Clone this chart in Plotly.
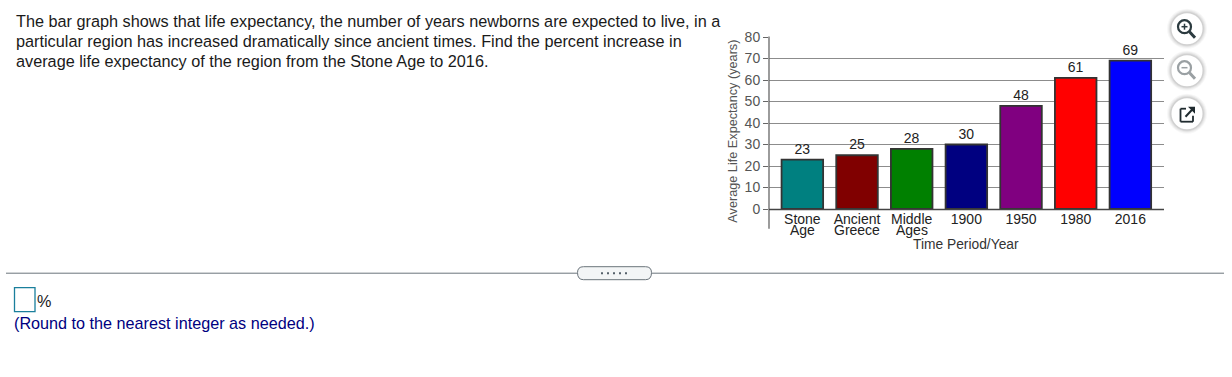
import plotly.graph_objects as go

categories_line1 = ["Stone", "Ancient", "Middle", "1900", "1950", "1980", "2016"]
categories_line2 = ["Age", "Greece", "Ages", "", "", "", ""]
values = [23, 25, 28, 30, 48, 61, 69]
bar_colors = ["#008080", "#800000", "#008000", "#000080", "#800080", "#ff0000", "#0000ff"]
y_ticks = [0, 10, 20, 30, 40, 50, 60, 70, 80]
question_lines = [
    "The bar graph shows that life expectancy, the number of years newborns are expected to live, in a",
    "particular region has increased dramatically since ancient times. Find the percent increase in",
    "average life expectancy of the region from the Stone Age to 2016.",
]

W, H = 1232, 377
L, R, T, B = 769, 1164, 37.3, 209.3
FONT = "Liberation Sans"


def px(x):
    return (x - L) / (R - L)


def py(y):
    return (B - y) / (B - T)


positions = list(range(len(values)))
fig = go.Figure(go.Bar(
    x=positions, y=values, width=0.76,
    marker=dict(color=bar_colors, line=dict(color="#333333", width=1.8)),
    text=[str(v) for v in values], textposition="outside", cliponaxis=False,
    textfont=dict(family=FONT, size=14, color="#222222"), hoverinfo="skip",
))

shapes = []
annotations = []


def text(x, y, s, size=14, color="#222222", anchor="left", angle=0):
    annotations.append(dict(
        xref="paper", yref="paper", x=px(x - (2 if anchor == "left" else 0)), y=py(y), text=s, showarrow=False,
        xanchor=anchor, yanchor="middle", textangle=angle,
        font=dict(family=FONT, size=size, color=color),
    ))


def line(x0, y0, x1, y1, color, width):
    shapes.append(dict(type="line", xref="paper", yref="paper", x0=px(x0), y0=py(y0),
                       x1=px(x1), y1=py(y1), line=dict(color=color, width=width)))


def circle(cx, cy, r, fill="rgba(0,0,0,0)", lc="rgba(0,0,0,0)", lw=0):
    shapes.append(dict(type="circle", xref="paper", yref="paper",
                       x0=px(cx - r), x1=px(cx + r), y0=py(cy + r), y1=py(cy - r),
                       fillcolor=fill, line=dict(color=lc, width=lw)))


for i, s in enumerate(question_lines):
    text(16, 21 + 20 * i, s, size=16.25, color="#1a1a1a")

# second lines of the two-line category labels
for p, s in zip(positions, categories_line2):
    if s:
        annotations.append(dict(xref="x", yref="paper", x=p, y=py(230), text=s, showarrow=False,
                                xanchor="center", yanchor="middle",
                                font=dict(family=FONT, size=14, color="#222222")))
text(966, 244.5, "Time Period/Year", size=13.8, anchor="center", color="#333333")
text(733, 132, "Average Life Expectancy (years)", size=12.7, color="#555555", anchor="center", angle=-90)

# axis stem and baseline
line(L, T - 0.5, L, 229, "#666666", 1.3)
line(L, B + 0.5, R, B + 0.5, "#444444", 1.5)

# divider and handle
line(6, 273.5, 577, 273.5, "#6b747b", 1)
line(652, 273.5, 1224, 273.5, "#6b747b", 1)
x0, x1, y0, y1, rr = 577.5, 651.5, 267, 280, 6
shapes.append(dict(
    type="path", xref="paper", yref="paper",
    path=(f"M {px(x0 + rr)} {py(y0)} L {px(x1 - rr)} {py(y0)} Q {px(x1)} {py(y0)} {px(x1)} {py(y0 + rr)} "
          f"Q {px(x1)} {py(y1)} {px(x1 - rr)} {py(y1)} L {px(x0 + rr)} {py(y1)} "
          f"Q {px(x0)} {py(y1)} {px(x0)} {py(y0 + rr)} Q {px(x0)} {py(y0)} {px(x0 + rr)} {py(y0)} Z"),
    fillcolor="#f3f5f6", line=dict(color="#6b747b", width=1)))
for dx in (601, 607, 613, 619, 625):
    shapes.append(dict(type="rect", xref="paper", yref="paper", x0=px(dx), x1=px(dx + 2), y0=py(274.5), y1=py(272.5),
                       fillcolor="#55606a", line=dict(width=0)))

# answer area
shapes.append(dict(type="rect", xref="paper", yref="paper", x0=px(14.5), x1=px(35), y0=py(312), y1=py(288),
                   fillcolor="white", line=dict(color="#1a7f9c", width=1.3)))
text(37, 301, "%", size=16.2, color="#1a1a1a")
text(14, 323, "(Round to the nearest integer as needed.)", size=16.2, color="#000080")

# icon buttons
for cy in (29, 71, 114):
    for r, a in ((20, 0.03), (19, 0.04), (18, 0.05), (17, 0.07)):
        circle(1187, cy, r, fill=f"rgba(0,0,0,{a})")
    circle(1187, cy, 15.5, fill="white")

for cy, col, plus in ((29, "#2b3a3f", True), (70, "#9aa0a3", False)):
    circle(1184.5, cy - 2, 6.5, lc=col, lw=2.2)
    line(1189.5, cy + 3, 1195, cy + 9, col, 3)
    line(1181.5, cy - 2, 1187.5, cy - 2, col, 1.5)
    if plus:
        line(1184.5, cy - 5, 1184.5, cy + 1, col, 1.5)

ic = "#1f2a2e"
line(1186, 109, 1180.5, 109, ic, 1.8)
line(1180.5, 109, 1180.5, 122, ic, 1.8)
line(1180.5, 122, 1193, 122, ic, 1.8)
line(1193, 122, 1193, 116, ic, 1.8)
line(1185.5, 117, 1193, 109, ic, 2)
shapes.append(dict(type="path", xref="paper", yref="paper",
                   path=f"M {px(1188)} {py(107)} L {px(1195)} {py(107)} L {px(1195)} {py(114)} Z",
                   fillcolor=ic, line=dict(width=0)))

fig.update_layout(
    width=W, height=H, autosize=False, showlegend=False,
    paper_bgcolor="white", plot_bgcolor="white",
    margin=dict(l=L, r=W - R, t=T, b=H - B, pad=0),
    xaxis=dict(
        range=[-0.61, 6.615], tickmode="array", tickvals=positions, ticktext=categories_line1,
        ticks="", showgrid=False, zeroline=False, showline=False, ticklabelstandoff=0,
        tickfont=dict(family=FONT, size=14, color="#222222"), fixedrange=True,
    ),
    yaxis=dict(
        range=[0, 80], tickmode="array", tickvals=y_ticks, ticks="outside", ticklen=5, tickwidth=1,
        tickcolor="#666666", showgrid=True, gridcolor="#8c8c8c", gridwidth=1.2, zeroline=False,
        showline=False, tickfont=dict(family=FONT, size=14, color="#555555"), fixedrange=True,
    ),
    shapes=shapes, annotations=annotations,
)

fig.write_html("out.html", config={"displayModeBar": False},
               post_script="document.body.style.margin='0';document.body.style.overflow='hidden';")
